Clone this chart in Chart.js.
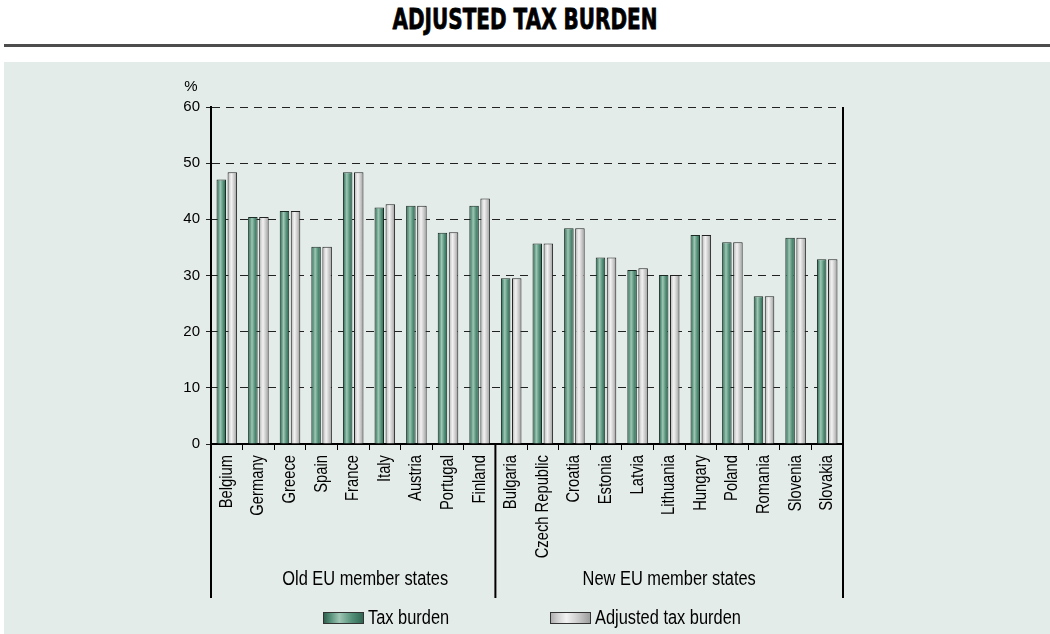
<!DOCTYPE html>
<html>
<head>
<meta charset="utf-8">
<script src="https://cdn.jsdelivr.net/npm/chart.js@4.4.0/dist/chart.umd.min.js"></script>
<style>
  body { margin: 0; width: 1050px; height: 634px; background: #fff; position: relative; overflow: hidden; }
  #titulo { position: absolute; top: 2px; left: 0; width: 1050px; text-align: center;
            font: bold 29px "DejaVu Sans", sans-serif; color: #000; transform: scaleX(0.69);
            -webkit-text-stroke: 0.8px #000; }
  #linha { position: absolute; top: 44px; left: 4px; right: 0; height: 3px; background: #4d4d4d; }
  #painel { position: absolute; top: 62px; left: 4px; right: 0; bottom: 0; background: #e3ece8; }
  canvas { position: absolute; top: 0; left: 0; }
</style>
</head>
<body>
<div id="titulo">ADJUSTED TAX BURDEN</div>
<div id="linha"></div>
<div id="painel"></div>
<canvas id="grafico" width="1050" height="634"></canvas>
<script>
// Carga fiscal por pais (%)
const paises = ['Belgium', 'Germany', 'Greece', 'Spain', 'France', 'Italy', 'Austria', 'Portugal', 'Finland',
                'Bulgaria', 'Czech Republic', 'Croatia', 'Estonia', 'Latvia', 'Lithuania', 'Hungary',
                'Poland', 'Romania', 'Slovenia', 'Slovakia'];
const cargaFiscal = [47.1, 40.4, 41.5, 35.1, 48.4, 42.1, 42.4, 37.6, 42.4,
                     29.5, 35.7, 38.4, 33.2, 31.0, 30.1, 37.2, 35.9, 26.3, 36.7, 32.9];
const cargaAjustada = [48.4, 40.4, 41.5, 35.1, 48.4, 42.7, 42.4, 37.7, 43.7,
                       29.5, 35.7, 38.4, 33.2, 31.3, 30.1, 37.2, 35.9, 26.3, 36.7, 32.9];
const grupos = ['Old EU member states', 'New EU member states'];
const tamanhoGrupos = [9, 11];
const legendas = ['Tax burden', 'Adjusted tax burden'];

const fonte = '"Liberation Sans", Arial, sans-serif';
const estreito = 0.82;
const catPct = 0.7, barPct = 0.86;

const coresVerde = ['#2a5a48', '#5b957f', '#9fc6b5', '#55917a', '#2c624e'];
const coresCinza = ['#a9a9a9', '#d4d4d4', '#f2f2f2', '#c9c9c9', '#9a9a9a'];

function criaGradiente(ctx, x0, x1, cores) {
    const g = ctx.createLinearGradient(x0, 0, x1, 0);
    g.addColorStop(0, cores[0]);
    g.addColorStop(0.2, cores[1]);
    g.addColorStop(0.4, cores[2]);
    g.addColorStop(0.7, cores[3]);
    g.addColorStop(1, cores[4]);
    return g;
}

// gradiente horizontal para cada barra
function preenchimento(cores) {
    return function (c) {
        const chart = c.chart;
        const x = chart.scales.x;
        if (!x || c.type !== 'data') return cores[2];
        const slot = x.width / paises.length * catPct / 2;
        const centro = x.getPixelForValue(c.dataIndex) + (c.datasetIndex === 0 ? -slot / 2 : slot / 2);
        const meia = slot * barPct / 2;
        if (!isFinite(centro) || !isFinite(meia)) return cores[2];
        return criaGradiente(chart.ctx, centro - meia, centro + meia, cores);
    };
}

// texto condensado (escala horizontal no sentido da escrita)
function textoEstreito(ctx, txt, x, y, rot, align) {
    ctx.save();
    ctx.translate(x, y);
    ctx.rotate(rot);
    ctx.scale(estreito, 1);
    ctx.textAlign = align;
    ctx.fillText(txt, 0, 0);
    ctx.restore();
}

// rotulos dos paises, linhas dos grupos, rotulos dos grupos e legenda
const extras = {
    id: 'extras',
    afterDraw(chart) {
        const { ctx, chartArea: a, scales: { x } } = chart;
        const larg = x.width / paises.length;
        ctx.save();
        ctx.fillStyle = '#000';
        ctx.textBaseline = 'middle';

        ctx.font = '18px ' + fonte;
        paises.forEach((p, i) => {
            textoEstreito(ctx, p, x.getPixelForValue(i), a.bottom + 11, -Math.PI / 2, 'right');
        });

        ctx.strokeStyle = '#000';
        ctx.lineWidth = 2;
        // borda direita
        ctx.beginPath();
        ctx.moveTo(a.right, a.top);
        ctx.lineTo(a.right, 598);
        ctx.stroke();

        let inicio = 0;
        const limites = [a.left];
        tamanhoGrupos.forEach(n => {
            inicio += n;
            limites.push(x.getPixelForValue(inicio - 1) + larg / 2);
        });
        limites.forEach(px => {
            ctx.beginPath();
            ctx.moveTo(px, a.bottom);
            ctx.lineTo(px, 598);
            ctx.stroke();
        });

        ctx.font = '20px ' + fonte;
        const desvio = [12, 0];
        grupos.forEach((g, i) => {
            textoEstreito(ctx, g, (limites[i] + limites[i + 1]) / 2 + desvio[i], 579, 0, 'center');
        });

        // unidade do eixo y
        ctx.font = '15px ' + fonte;
        ctx.textAlign = 'center';
        ctx.fillText('%', 191, 87);

        // legenda
        const posLegenda = [323, 550];
        const coresLegenda = [coresVerde, coresCinza];
        ctx.font = '20px ' + fonte;
        legendas.forEach((txt, i) => {
            const lx = posLegenda[i];
            ctx.fillStyle = criaGradiente(ctx, lx, lx + 41, coresLegenda[i]);
            ctx.fillRect(lx, 612, 41, 12);
            ctx.lineWidth = 1;
            ctx.strokeStyle = '#333';
            ctx.strokeRect(lx + 0.5, 612.5, 40, 11);
            ctx.fillStyle = '#000';
            textoEstreito(ctx, txt, lx + 45, 618, 0, 'left');
        });
        ctx.restore();
    }
};

new Chart(document.getElementById('grafico'), {
    type: 'bar',
    data: {
        labels: paises,
        datasets: [{
            label: legendas[0],
            data: cargaFiscal,
            backgroundColor: preenchimento(coresVerde),
            borderColor: '#1a2a24',
            borderWidth: 1
        }, {
            label: legendas[1],
            data: cargaAjustada,
            backgroundColor: preenchimento(coresCinza),
            borderColor: '#222',
            borderWidth: 1
        }]
    },
    options: {
        responsive: false,
        devicePixelRatio: 1,
        animation: false,
        datasets: { bar: { categoryPercentage: catPct, barPercentage: barPct } },
        layout: { padding: { left: 0, right: 207, top: 107, bottom: 0 } },
        plugins: { legend: { display: false }, tooltip: { enabled: false } },
        scales: {
            x: {
                grid: { display: true, drawOnChartArea: false, drawTicks: true, tickLength: 6, color: '#000', offset: true },
                border: { display: true, color: '#000', width: 2 },
                ticks: { display: false },
                afterFit: s => { s.height = 190; }
            },
            y: {
                min: 0,
                max: 60,
                ticks: { stepSize: 10, color: '#000', font: { family: fonte, size: 15 }, padding: 6 },
                grid: { color: '#222', lineWidth: 1, tickLength: 5 },
                border: { display: true, color: '#000', width: 2, dash: [8, 6] },
                afterFit: s => { s.width = 211; }
            }
        }
    },
    plugins: [extras]
});
</script>
</body>
</html>
